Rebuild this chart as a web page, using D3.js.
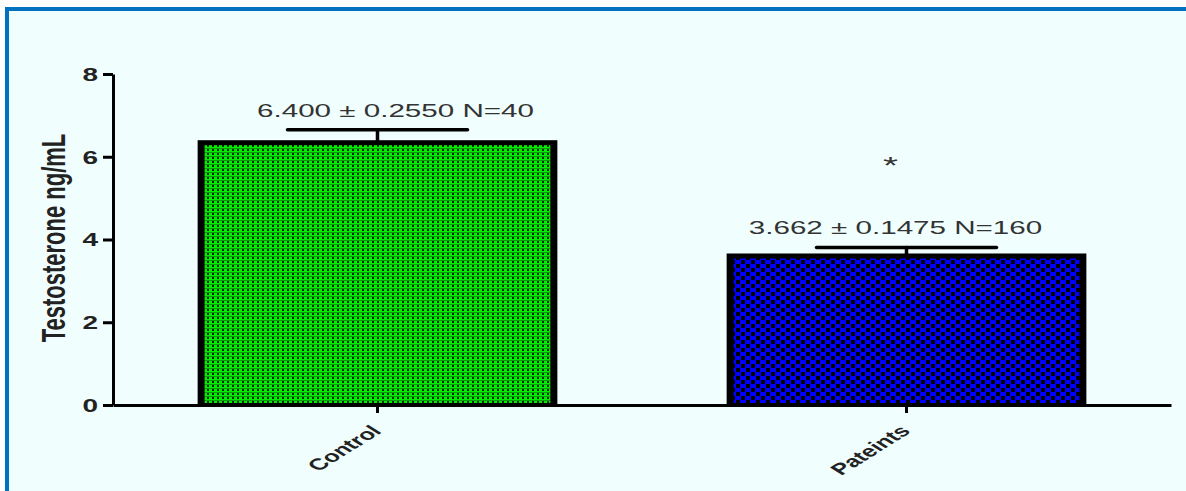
<!DOCTYPE html>
<html>
<head>
<meta charset="utf-8">
<script src="https://cdn.jsdelivr.net/npm/d3@7"></script>
<style>
  body { margin: 0; background: #fff; }
  svg { display: block; font-family: "Liberation Sans", Arial, sans-serif; }
</style>
</head>
<body>
<div id="chart"></div>
<script>
// Data
const groups = ["Control", "Pateints"];
const means = [6.400, 3.662];
const sems = [0.2550, 0.1475];
const counts = [40, 160];
const sigMarks = ["", "*"];
const yTicks = [0, 2, 4, 6, 8];

const W = 1186, H = 491;
const stretch = 1.6; // the source figure is stretched horizontally

const svg = d3.select("#chart").append("svg")
  .attr("width", W)
  .attr("height", H);

// patterns for the bar fills
const defs = svg.append("defs");
const green = defs.append("pattern")
  .attr("id", "greenFill")
  .attr("patternUnits", "userSpaceOnUse")
  .attr("width", 5).attr("height", 4);
green.append("rect").attr("width", 5).attr("height", 4).attr("fill", "#00f000");
green.append("rect").attr("x", 2).attr("y", 1).attr("width", 2).attr("height", 2).attr("fill", "#032603");
green.append("rect").attr("x", 0).attr("y", 0).attr("width", 5).attr("height", 1).attr("fill", "#0b9a0b");

const blue = defs.append("pattern")
  .attr("id", "blueFill")
  .attr("patternUnits", "userSpaceOnUse")
  .attr("width", 10).attr("height", 8);
blue.append("rect").attr("width", 10).attr("height", 8).attr("fill", "#0000ff");
blue.append("rect").attr("x", 6).attr("y", 0).attr("width", 4).attr("height", 4).attr("fill", "#000");
blue.append("rect").attr("x", 1).attr("y", 4).attr("width", 4).attr("height", 4).attr("fill", "#000");

const fills = ["url(#greenFill)", "url(#blueFill)"];

// frame
svg.append("rect")
  .attr("x", 7).attr("y", 9)
  .attr("width", 1200).attr("height", 500)
  .attr("fill", "#f0fefe")
  .attr("stroke", "#0070c0")
  .attr("stroke-width", 4);

// scales
const x = d3.scaleBand()
  .domain(groups)
  .range([113, 1171])
  .paddingInner(0.32)
  .paddingOuter(0.16);

const y = d3.scaleLinear()
  .domain([0, 8])
  .range([405, 74]);

const rows = groups.map((g, i) => ({
  group: g, mean: means[i], sem: sems[i], n: counts[i], mark: sigMarks[i], fill: fills[i]
}));

// bars: black outline + patterned interior
const bars = svg.append("g");
bars.selectAll("rect.outer")
  .data(rows)
  .enter()
  .append("rect")
  .attr("class", "outer")
  .attr("x", d => x(d.group))
  .attr("y", d => y(d.mean))
  .attr("width", x.bandwidth())
  .attr("height", d => y(0) - y(d.mean))
  .attr("fill", "#000");

bars.selectAll("rect.inner")
  .data(rows)
  .enter()
  .append("rect")
  .attr("class", "inner")
  .attr("x", d => x(d.group) + 7)
  .attr("y", d => y(d.mean) + 5)
  .attr("width", x.bandwidth() - 14)
  .attr("height", d => y(0) - y(d.mean) - 7)
  .attr("fill", d => d.fill);

// error bars (upper only)
const err = svg.append("g")
  .attr("stroke", "#000")
  .attr("stroke-width", 3.5)
  .attr("stroke-linecap", "round");
err.selectAll("line.stem")
  .data(rows)
  .enter()
  .append("line")
  .attr("x1", d => x(d.group) + x.bandwidth() / 2)
  .attr("x2", d => x(d.group) + x.bandwidth() / 2)
  .attr("y1", d => y(d.mean))
  .attr("y2", d => y(d.mean + d.sem));
err.selectAll("line.cap")
  .data(rows)
  .enter()
  .append("line")
  .attr("x1", d => x(d.group) + x.bandwidth() / 2 - 90)
  .attr("x2", d => x(d.group) + x.bandwidth() / 2 + 90)
  .attr("y1", d => y(d.mean + d.sem))
  .attr("y2", d => y(d.mean + d.sem));

// y axis
const yAxis = svg.append("g")
  .attr("transform", "translate(113,0)")
  .call(d3.axisLeft(y).tickValues(yTicks).tickSize(10).tickSizeOuter(0));
yAxis.select(".domain").attr("stroke", "#000").attr("stroke-width", 3);
yAxis.selectAll(".tick line").attr("stroke", "#000").attr("stroke-width", 3);
yAxis.selectAll(".tick text")
  .attr("x", 0)
  .attr("dy", "0.36em")
  .attr("transform", `translate(-15,0) scale(${stretch},1)`)
  .attr("fill", "#222")
  .style("font-size", "17.5px")
  .style("font-weight", "bold");

// x axis
const xAxis = svg.append("g")
  .attr("transform", "translate(0,405)")
  .call(d3.axisBottom(x).tickSize(8).tickSizeOuter(0));
xAxis.select(".domain").attr("stroke", "#000").attr("stroke-width", 3);
xAxis.selectAll(".tick line").attr("stroke", "#000").attr("stroke-width", 3);
xAxis.selectAll(".tick text")
  .attr("y", 0)
  .attr("dy", 0)
  .attr("text-anchor", "end")
  .attr("transform", `translate(5,27) scale(${stretch},1) rotate(-45)`)
  .attr("fill", "#222")
  .style("font-size", "16px")
  .style("font-weight", "bold");

// y axis title
svg.append("text")
  .attr("text-anchor", "middle")
  .attr("transform", "translate(65,238) rotate(-90) scale(1,1.5)")
  .attr("fill", "#222")
  .style("font-size", "22px")
  .style("font-weight", "bold")
  .text("Testosterone ng/mL");

// mean ± SEM labels
const labelShift = [18, -11];
svg.selectAll("text.stat")
  .data(rows)
  .enter()
  .append("text")
  .attr("class", "stat")
  .attr("text-anchor", "middle")
  .attr("transform", (d, i) =>
    `translate(${x(d.group) + x.bandwidth() / 2 + labelShift[i]},${y(d.mean + d.sem) - 13}) scale(${stretch},1)`)
  .attr("fill", "#333")
  .style("font-size", "18.5px")
  .text(d => `${d.mean.toFixed(3)} ± ${d.sem.toFixed(4)} N=${d.n}`);

// significance marks
svg.selectAll("text.sig")
  .data(rows.filter(d => d.mark))
  .enter()
  .append("text")
  .attr("class", "sig")
  .attr("text-anchor", "middle")
  .attr("transform", d =>
    `translate(${x(d.group) + x.bandwidth() / 2 - 16},${y(d.mean + d.sem) - 73}) scale(${stretch},1)`)
  .attr("fill", "#333")
  .style("font-size", "24px")
  .text(d => d.mark);
</script>
</body>
</html>
